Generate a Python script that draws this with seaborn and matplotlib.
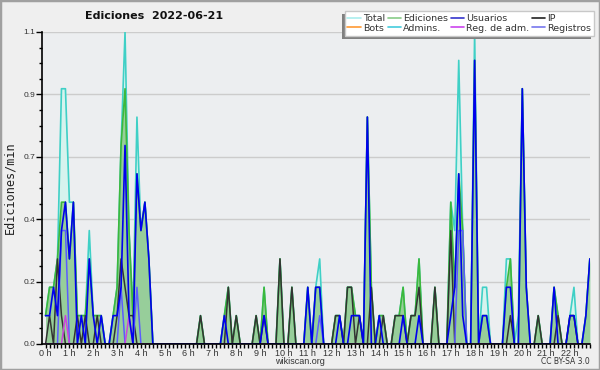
import matplotlib
matplotlib.use("Agg")
import matplotlib.pyplot as plt
import numpy as np
import seaborn as sns
from matplotlib.lines import Line2D
from matplotlib.patches import Rectangle
from matplotlib.ticker import FixedLocator, MultipleLocator
from matplotlib.transforms import IdentityTransform

# edits per minute, one value per 10-minute bin, 0:00 -> 22:50 (one row per hour)
total = [
    0.1, 0.2, 0.2, 0.3, 0.9, 0.9,
    0.5, 0.5, 0.1, 0.1, 0.1, 0.4,
    0.1, 0.1, 0.1, 0.0, 0.0, 0.1,
    0.2, 0.7, 1.1, 0.4, 0.1, 0.8,
    0.4, 0.5, 0.3, 0.0, 0.0, 0.0,
    0.0, 0.0, 0.0, 0.0, 0.0, 0.0,
    0.0, 0.0, 0.0, 0.1, 0.0, 0.0,
    0.0, 0.0, 0.0, 0.1, 0.2, 0.0,
    0.1, 0.0, 0.0, 0.0, 0.0, 0.1,
    0.0, 0.2, 0.0, 0.0, 0.0, 0.3,
    0.0, 0.0, 0.2, 0.0, 0.0, 0.0,
    0.2, 0.0, 0.2, 0.3, 0.0, 0.0,
    0.0, 0.1, 0.1, 0.0, 0.2, 0.2,
    0.1, 0.1, 0.0, 0.8, 0.2, 0.0,
    0.1, 0.1, 0.0, 0.0, 0.1, 0.1,
    0.2, 0.0, 0.1, 0.1, 0.3, 0.0,
    0.0, 0.0, 0.2, 0.0, 0.0, 0.0,
    0.5, 0.4, 1.0, 0.4, 0.0, 0.0,
    1.1, 0.0, 0.2, 0.2, 0.0, 0.0,
    0.0, 0.0, 0.3, 0.3, 0.0, 0.1,
    0.9, 0.2, 0.0, 0.0, 0.1, 0.0,
    0.0, 0.0, 0.2, 0.1, 0.0, 0.0,
    0.1, 0.2, 0.0, 0.0, 0.1, 0.3,
]

ediciones = [
    0.1, 0.2, 0.2, 0.3, 0.5, 0.5,
    0.3, 0.5, 0.1, 0.1, 0.1, 0.3,
    0.1, 0.1, 0.1, 0.0, 0.0, 0.1,
    0.2, 0.7, 0.9, 0.4, 0.1, 0.6,
    0.4, 0.5, 0.3, 0.0, 0.0, 0.0,
    0.0, 0.0, 0.0, 0.0, 0.0, 0.0,
    0.0, 0.0, 0.0, 0.1, 0.0, 0.0,
    0.0, 0.0, 0.0, 0.1, 0.2, 0.0,
    0.1, 0.0, 0.0, 0.0, 0.0, 0.1,
    0.0, 0.2, 0.0, 0.0, 0.0, 0.3,
    0.0, 0.0, 0.2, 0.0, 0.0, 0.0,
    0.2, 0.0, 0.2, 0.2, 0.0, 0.0,
    0.0, 0.1, 0.1, 0.0, 0.2, 0.2,
    0.1, 0.1, 0.0, 0.8, 0.2, 0.0,
    0.1, 0.1, 0.0, 0.0, 0.1, 0.1,
    0.2, 0.0, 0.1, 0.1, 0.3, 0.0,
    0.0, 0.0, 0.2, 0.0, 0.0, 0.0,
    0.5, 0.2, 0.6, 0.4, 0.0, 0.0,
    1.0, 0.0, 0.1, 0.1, 0.0, 0.0,
    0.0, 0.0, 0.2, 0.3, 0.0, 0.0,
    0.9, 0.2, 0.0, 0.0, 0.1, 0.0,
    0.0, 0.0, 0.2, 0.1, 0.0, 0.0,
    0.1, 0.1, 0.0, 0.0, 0.1, 0.3,
]

usuarios = [
    0.1, 0.1, 0.2, 0.1, 0.4, 0.5,
    0.3, 0.5, 0.0, 0.1, 0.0, 0.3,
    0.1, 0.0, 0.1, 0.0, 0.0, 0.1,
    0.1, 0.2, 0.7, 0.1, 0.0, 0.6,
    0.4, 0.5, 0.3, 0.0, 0.0, 0.0,
    0.0, 0.0, 0.0, 0.0, 0.0, 0.0,
    0.0, 0.0, 0.0, 0.0, 0.0, 0.0,
    0.0, 0.0, 0.0, 0.1, 0.0, 0.0,
    0.0, 0.0, 0.0, 0.0, 0.0, 0.0,
    0.0, 0.1, 0.0, 0.0, 0.0, 0.0,
    0.0, 0.0, 0.0, 0.0, 0.0, 0.0,
    0.2, 0.0, 0.2, 0.2, 0.0, 0.0,
    0.0, 0.0, 0.1, 0.0, 0.0, 0.1,
    0.1, 0.1, 0.0, 0.8, 0.0, 0.0,
    0.1, 0.0, 0.0, 0.0, 0.0, 0.0,
    0.1, 0.0, 0.0, 0.0, 0.1, 0.0,
    0.0, 0.0, 0.0, 0.0, 0.0, 0.0,
    0.1, 0.2, 0.6, 0.1, 0.0, 0.0,
    1.0, 0.0, 0.1, 0.1, 0.0, 0.0,
    0.0, 0.0, 0.2, 0.2, 0.0, 0.0,
    0.9, 0.2, 0.0, 0.0, 0.0, 0.0,
    0.0, 0.0, 0.2, 0.0, 0.0, 0.0,
    0.1, 0.1, 0.0, 0.0, 0.1, 0.3,
]

ip = [
    0.0, 0.1, 0.0, 0.3, 0.1, 0.0,
    0.0, 0.0, 0.1, 0.0, 0.1, 0.0,
    0.0, 0.1, 0.0, 0.0, 0.0, 0.0,
    0.1, 0.3, 0.2, 0.1, 0.1, 0.0,
    0.0, 0.0, 0.0, 0.0, 0.0, 0.0,
    0.0, 0.0, 0.0, 0.0, 0.0, 0.0,
    0.0, 0.0, 0.0, 0.1, 0.0, 0.0,
    0.0, 0.0, 0.0, 0.0, 0.2, 0.0,
    0.1, 0.0, 0.0, 0.0, 0.0, 0.1,
    0.0, 0.1, 0.0, 0.0, 0.0, 0.3,
    0.0, 0.0, 0.2, 0.0, 0.0, 0.0,
    0.0, 0.0, 0.0, 0.0, 0.0, 0.0,
    0.0, 0.1, 0.1, 0.0, 0.2, 0.2,
    0.0, 0.1, 0.0, 0.0, 0.2, 0.0,
    0.0, 0.1, 0.0, 0.0, 0.1, 0.1,
    0.1, 0.0, 0.1, 0.1, 0.2, 0.0,
    0.0, 0.0, 0.2, 0.0, 0.0, 0.0,
    0.4, 0.0, 0.0, 0.0, 0.0, 0.0,
    0.0, 0.0, 0.0, 0.0, 0.0, 0.0,
    0.0, 0.0, 0.0, 0.1, 0.0, 0.0,
    0.0, 0.0, 0.0, 0.0, 0.1, 0.0,
    0.0, 0.0, 0.0, 0.1, 0.0, 0.0,
    0.1, 0.1, 0.0, 0.0, 0.0, 0.0,
]

registros = [
    0.0, 0.0, 0.0, 0.0, 0.4, 0.4,
    0.0, 0.0, 0.0, 0.0, 0.0, 0.0,
    0.0, 0.0, 0.0, 0.0, 0.0, 0.0,
    0.0, 0.2, 0.0, 0.0, 0.0, 0.2,
    0.0, 0.0, 0.0, 0.0, 0.0, 0.0,
    0.0, 0.0, 0.0, 0.0, 0.0, 0.0,
    0.0, 0.0, 0.0, 0.0, 0.0, 0.0,
    0.0, 0.0, 0.0, 0.0, 0.0, 0.0,
    0.0, 0.0, 0.0, 0.0, 0.0, 0.0,
    0.0, 0.0, 0.0, 0.0, 0.0, 0.0,
    0.0, 0.0, 0.0, 0.0, 0.0, 0.0,
    0.0, 0.0, 0.0, 0.1, 0.0, 0.0,
    0.0, 0.0, 0.0, 0.0, 0.0, 0.0,
    0.0, 0.0, 0.0, 0.0, 0.0, 0.0,
    0.0, 0.0, 0.0, 0.0, 0.0, 0.0,
    0.0, 0.0, 0.0, 0.0, 0.0, 0.0,
    0.0, 0.0, 0.0, 0.0, 0.0, 0.0,
    0.0, 0.0, 0.4, 0.4, 0.0, 0.0,
    0.0, 0.0, 0.0, 0.0, 0.0, 0.0,
    0.0, 0.0, 0.0, 0.0, 0.0, 0.0,
    0.0, 0.0, 0.0, 0.0, 0.0, 0.0,
    0.0, 0.0, 0.0, 0.0, 0.0, 0.0,
    0.0, 0.0, 0.0, 0.0, 0.0, 0.0,
]

reg_adm = [0.0] * len(total)
reg_adm[5] = 0.1
reg_adm[21] = 0.1

legend_labels = ["Total", "Bots", "Ediciones", "Admins.",
                 "Usuarios", "Reg. de adm.", "IP", "Registros"]
legend_colors = ["#aaeeee", "#ff9933", "#88cc88", "#44ccdd",
                 "#3333cc", "#cc44ee", "#222222", "#7777ee"]
hour_labels = [f"{h} h" for h in range(23)]
ytick_values = [0.0, 0.22, 0.44, 0.66, 0.88, 1.1]
ytick_labels = ["0.0", "0.2", "0.4", "0.7", "0.9", "1.1"]

hours = np.arange(len(total)) / 6

sns.set_theme(style="ticks")
plt.rcParams["font.family"] = ["DejaVu Sans"]

fig = plt.figure(figsize=(6, 3.7), dpi=100, facecolor="#efefef")
ax = fig.add_axes([42 / 600, 26 / 370, 548 / 600, 312 / 370])
ax.set_facecolor("#eceef0")

ax.fill_between(hours, total, color="#d6f3ee", lw=0, zorder=1)
sns.lineplot(x=hours, y=total, color="#3fd0c6", lw=1.2, ax=ax, zorder=2)
ax.fill_between(hours, ediciones, color="#8cc88c", alpha=0.85, lw=0, zorder=3)
sns.lineplot(x=hours, y=ediciones, color="#3cb83c", lw=1.2, ax=ax, zorder=4)
sns.lineplot(x=hours, y=ip, color="#333333", lw=1.1, ax=ax, zorder=5)
sns.lineplot(x=hours, y=registros, color="#5b5bff", lw=1.1, ax=ax, zorder=6)
sns.lineplot(x=hours, y=reg_adm, color="#cc44dd", lw=1.1, ax=ax, zorder=6)
sns.lineplot(x=hours, y=usuarios, color="#0000ee", lw=1.2, ax=ax, zorder=7)

ax.set_xlim(-0.15, 22.84)
ax.set_ylim(0, 1.1)

ax.xaxis.set_major_locator(FixedLocator(range(23)))
ax.set_xticklabels(hour_labels, fontfamily="Liberation Sans", fontsize=6.5)
ax.xaxis.set_minor_locator(MultipleLocator(1 / 6))
ax.yaxis.set_major_locator(FixedLocator(ytick_values))
ax.set_yticklabels(ytick_labels, fontfamily="Liberation Sans", fontsize=6)
ax.yaxis.set_minor_locator(MultipleLocator(0.055))
ax.tick_params(which="both", direction="out", color="black", width=1,
               labelcolor="#333333")
ax.tick_params(axis="x", which="both", length=3, pad=0.5)
ax.tick_params(axis="y", which="major", length=4, pad=1)
ax.tick_params(axis="y", which="minor", length=2.5)

ax.yaxis.grid(True, color="#cccccc", lw=1)
ax.xaxis.grid(False)
for side in ["top", "right"]:
    ax.spines[side].set_visible(False)
for side in ["left", "bottom"]:
    ax.spines[side].set_color("black")
    ax.spines[side].set_linewidth(1.2)
    ax.spines[side].set_zorder(10)

ax.set_xlabel("")
ax.set_ylabel("Ediciones/min", fontfamily="DejaVu Sans Mono", fontsize=8.5, color="#222222")
ax.yaxis.set_label_coords(-0.046, 0.5)

fig.text(0.256, 0.957, "Ediciones  2022-06-21", ha="center", va="center",
         fontsize=8, fontweight="bold", color="#111111")
fig.text(0.5, 0.022, "wikiscan.org", ha="center", va="center",
         fontfamily="Liberation Sans", fontsize=6.5, color="#333333")
fig.text(0.983, 0.022, "CC BY-SA 3.0", ha="right", va="center", fontsize=5.5, color="#333333")

handles = [Line2D([], [], color=c, lw=1.2) for c in legend_colors]
leg = ax.legend(handles, legend_labels, ncol=4, loc="upper right",
                bbox_to_anchor=(594 / 600, 1 - 11 / 370), bbox_transform=fig.transFigure,
                borderaxespad=0, fontsize=6.8, handlelength=1.4, handletextpad=0.25,
                columnspacing=0.25, labelspacing=0.1, borderpad=0.3,
                frameon=True, fancybox=False, framealpha=1, facecolor="white",
                edgecolor="#c8c8c8")
for txt in leg.get_texts():
    txt.set_color("#333333")
leg.set_zorder(20)

# hand-drawn legend shadow, offset to the lower left
fig.canvas.draw()
bb = leg.get_window_extent(fig.canvas.get_renderer())
shadow = Rectangle((bb.x0 - 3, bb.y0 - 3), bb.width, bb.height, transform=IdentityTransform(),
                   facecolor="#808080", edgecolor="none", zorder=19, clip_on=False)
ax.add_artist(shadow)

fig.add_artist(Rectangle((0, 0), 1, 1, transform=fig.transFigure, fill=False,
                         edgecolor="#a0a0a0", lw=2.5, zorder=30))

fig.savefig("out.png", dpi=100, facecolor=fig.get_facecolor())
